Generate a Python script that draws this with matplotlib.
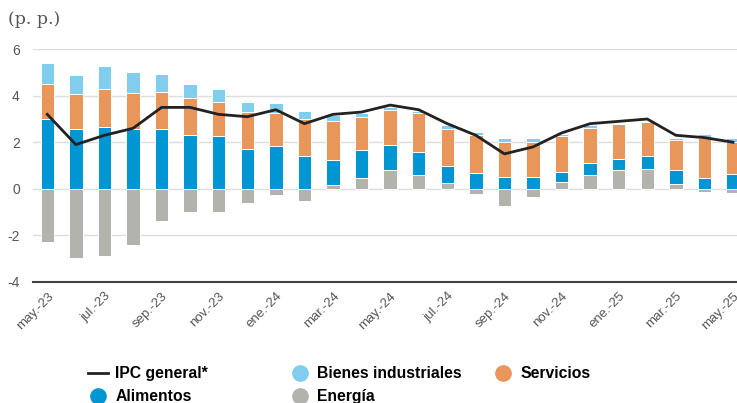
import numpy as np
import matplotlib.pyplot as plt
from matplotlib.lines import Line2D

# Contribuciones a la inflación (p. p.), may-23 a may-25
months = ['may.-23', 'jun.-23', 'jul.-23', 'ago.-23', 'sep.-23', 'oct.-23', 'nov.-23', 'dic.-23',
          'ene.-24', 'feb.-24', 'mar.-24', 'abr.-24', 'may.-24', 'jun.-24', 'jul.-24', 'ago.-24',
          'sep.-24', 'oct.-24', 'nov.-24', 'dic.-24', 'ene.-25', 'feb.-25', 'mar.-25', 'abr.-25',
          'may.-25']
alimentos = [3.0, 2.55, 2.66, 2.55, 2.55, 2.32, 2.26, 1.71, 1.82, 1.39, 1.08, 1.2, 1.07,
             1.03, 0.76, 0.68, 0.5, 0.5, 0.45, 0.54, 0.48, 0.54, 0.6, 0.45, 0.62]
servicios = [1.5, 1.52, 1.63, 1.58, 1.63, 1.58, 1.49, 1.59, 1.42, 1.63, 1.69, 1.42, 1.53,
             1.64, 1.55, 1.64, 1.53, 1.53, 1.51, 1.52, 1.52, 1.47, 1.3, 1.73, 1.4]
bienes = [0.92, 0.81, 0.97, 0.91, 0.75, 0.6, 0.53, 0.43, 0.43, 0.32, 0.27, 0.19, 0.1,
          0.12, 0.2, 0.1, 0.17, 0.17, 0.1, 0.1, 0.04, 0.06, 0.1, 0.16, 0.18]
energia = [-2.29, -2.97, -2.91, -2.44, -1.4, -1.01, -1.01, -0.63, -0.26, -0.53, 0.14, 0.46,
           0.8, 0.57, 0.24, -0.21, -0.75, -0.36, 0.29, 0.57, 0.8, 0.85, 0.2, -0.15, -0.2]
ipc = [3.2, 1.9, 2.3, 2.6, 3.5, 3.5, 3.2, 3.1, 3.4, 2.8, 3.2, 3.3, 3.6, 3.4, 2.8, 2.3,
       1.5, 1.8, 2.4, 2.8, 2.9, 3.0, 2.3, 2.2, 2.0]

c_alim = '#0096d4'
c_serv = '#e8965a'
c_bien = '#80cdee'
c_ener = '#b3b3ae'

plt.rcParams['font.family'] = ['Liberation Sans', 'DejaVu Sans']

fig = plt.figure(figsize=(7.37, 4.03), dpi=100)
ax = fig.add_axes([33 / 737, 1 - 281.7 / 403, 1 - 33 / 737, (281.7 - 49.3) / 403])

x = np.arange(len(months))
ener = np.array(energia)
alim = np.array(alimentos)
serv = np.array(servicios)
bien = np.array(bienes)

base = np.clip(ener, 0, None)
w = 0.47
kw = dict(width=w, edgecolor='white', linewidth=0.7, zorder=2)
ax.bar(x, ener, color=c_ener, **kw)
ax.bar(x, alim, bottom=base, color=c_alim, **kw)
ax.bar(x, serv, bottom=base + alim, color=c_serv, **kw)
ax.bar(x, bien, bottom=base + alim + serv, color=c_bien, **kw)
ax.plot(x, ipc, color='#222222', lw=2, zorder=3)

ax.set_ylim(-4, 6)
ax.set_xlim(-0.5, 24.14)
ax.set_yticks([-4, -2, 0, 2, 4, 6])
ax.set_yticklabels(['-4', '-2', '0', '2', '4', '6'])
ax.set_xticks(x[::2])
ax.set_xticklabels(months[::2], rotation=45, ha='right', rotation_mode='anchor')
ax.tick_params(axis='both', length=0, labelsize=9.5, colors='#555555')
ax.tick_params(axis='y', pad=9.5, labelsize=10)
ax.tick_params(axis='x', pad=6)
ax.grid(axis='y', color='#dddddd', lw=1, zorder=0)
ax.set_axisbelow(True)
for s in ['top', 'right', 'left']:
    ax.spines[s].set_visible(False)
ax.spines['bottom'].set_color('#444444')
ax.spines['bottom'].set_linewidth(1.5)

fig.text(8 / 737, 1 - 20 / 403, '(p. p.)', family='DejaVu Serif', fontsize=12.5,
         color='#555555', va='center', ha='left')

# leyenda en tres columnas de ancho fijo
def dot(c):
    return Line2D([], [], marker='o', ls='none', markersize=11, markerfacecolor=c,
                  markeredgecolor=c)

cols = [
    ([Line2D([], [], color='#222222', lw=2), dot(c_alim)], ['IPC general*', 'Alimentos'], 88),
    ([dot(c_bien), dot(c_ener)], ['Bienes industriales', 'Energía'], 290),
    ([dot(c_serv)], ['Servicios'], 493),
]
for handles, labels, left in cols:
    fig.legend(handles, labels, loc='upper left', bbox_to_anchor=(left / 737, 1 - 366 / 403),
               frameon=False, borderpad=0, borderaxespad=0, handlelength=1.3,
               handletextpad=0.45, labelspacing=0.52,
               prop={'family': 'Liberation Sans', 'weight': 'bold', 'size': 11.3})

fig.savefig('out.png', dpi=100)
